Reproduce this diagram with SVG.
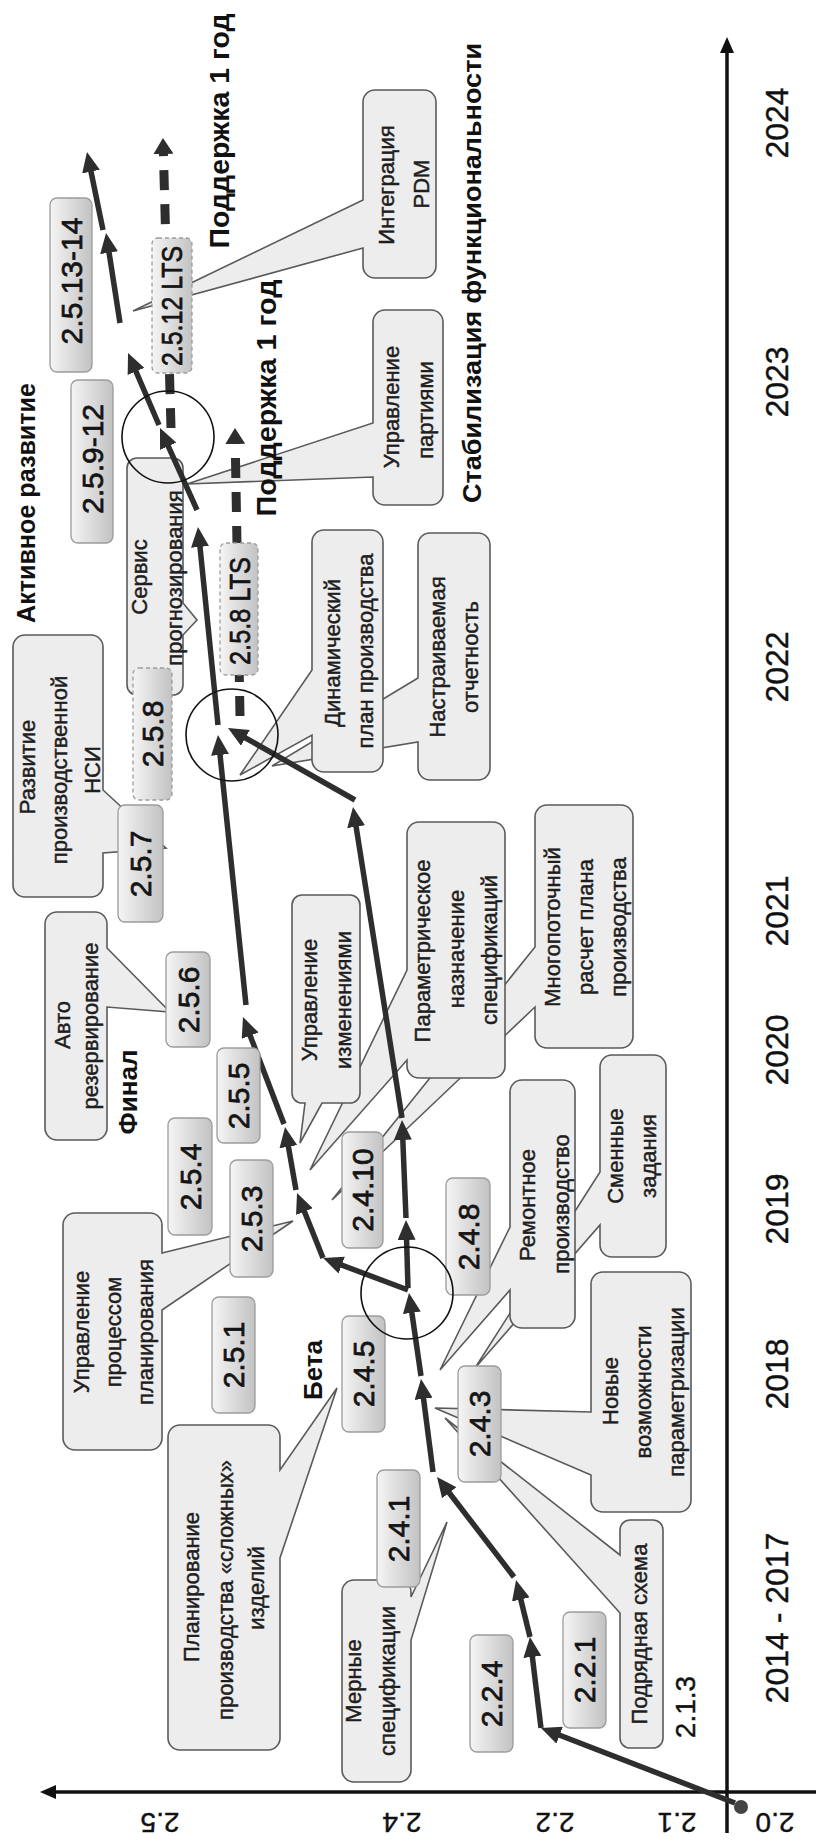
<svg xmlns="http://www.w3.org/2000/svg" width="816" height="1843" viewBox="0 0 816 1843">
<defs>
<style>
.cb{fill:#ededed;stroke:#5a5a5a;stroke-width:1.6}
.ct{font-family:"Liberation Sans",Arial,sans-serif;font-size:22px;fill:#1e1e1e;stroke:#1e1e1e;stroke-width:0.45;text-anchor:middle}
.vb{fill:url(#vg);stroke:#9c9c9c;stroke-width:1.3}
.vd{stroke-dasharray:4 3}
.vt{font-family:"Liberation Sans",Arial,sans-serif;font-size:30px;fill:#141414;stroke:#141414;stroke-width:0.7;text-anchor:middle}
.bt{font-family:"Liberation Sans",Arial,sans-serif;font-weight:bold;font-size:26px;fill:#111;text-anchor:middle}
.yt{font-family:"Liberation Sans",Arial,sans-serif;font-size:32px;fill:#111;stroke:#111;stroke-width:0.4;text-anchor:middle}
.at{font-family:"Liberation Sans",Arial,sans-serif;font-size:28px;fill:#111;stroke:#111;stroke-width:0.4;text-anchor:middle}
.ar{fill:none;stroke:#2e2e2e;stroke-width:5.5;marker-end:url(#ah)}
.da{fill:none;stroke:#2e2e2e;stroke-width:9;stroke-dasharray:20 14;marker-end:url(#dh)}
.ci{fill:none;stroke:#111;stroke-width:1.6}
.ax{stroke:#111;stroke-width:3.5;fill:none}
</style>
<linearGradient id="vg" x1="0" y1="0" x2="1" y2="0">
<stop offset="0" stop-color="#f5f5f5"/>
<stop offset="1" stop-color="#c2c2c2"/>
</linearGradient>
<marker id="ah" markerUnits="userSpaceOnUse" viewBox="0 0 20 18" markerWidth="20" markerHeight="18" refX="13" refY="9" orient="auto">
<path d="M0,0 L20,9 L0,18 Z" fill="#2e2e2e"/>
</marker>
<marker id="dh" markerUnits="userSpaceOnUse" viewBox="0 0 16 20" markerWidth="16" markerHeight="20" refX="8" refY="10" orient="auto">
<path d="M0,0 L16,10 L0,20 Z" fill="#2e2e2e"/>
</marker>
</defs>
<rect width="816" height="1843" fill="#fff"/>

<g id="axes">
<path class="ax" d="M816,1792 H54"/>
<polygon points="40,1792 56,1785 56,1799" fill="#111"/>
<path class="ax" d="M727,1833 V52"/>
<polygon points="727,37 720,53 734,53" fill="#111"/>
<circle cx="741" cy="1807" r="7" fill="#444"/>
<text class="at" transform="translate(160,1813) rotate(180)">2.5</text>
<text class="at" transform="translate(402,1813) rotate(180)">2.4</text>
<text class="at" transform="translate(555,1813) rotate(180)">2.2</text>
<text class="at" transform="translate(677,1813) rotate(180)">2.1</text>
<text class="at" transform="translate(775,1813) rotate(180)">2.0</text>
<text class="yt" transform="translate(788,123) rotate(-90)">2024</text>
<text class="yt" transform="translate(788,382) rotate(-90)">2023</text>
<text class="yt" transform="translate(788,667) rotate(-90)">2022</text>
<text class="yt" transform="translate(788,911) rotate(-90)">2021</text>
<text class="yt" transform="translate(788,1050) rotate(-90)">2020</text>
<text class="yt" transform="translate(788,1209) rotate(-90)">2019</text>
<text class="yt" transform="translate(788,1374) rotate(-90)">2018</text>
<text class="yt" transform="translate(788,1618) rotate(-90)">2014 - 2017</text>
</g>

<g id="callouts">
<g id="c-integration-pdm">
<path class="cb" d="M375,90 H424 A12,12 0 0 1 436,102 V266 A12,12 0 0 1 424,278 H375 A12,12 0 0 1 363,266 V248 L133,311 L363,200 V102 A12,12 0 0 1 375,90 Z"/>
<text class="ct" transform="translate(394,185) rotate(-90)">Интеграция</text>
<text class="ct" transform="translate(429,184) rotate(-90)">PDM</text>
</g>
<g id="c-batches">
<path class="cb" d="M385,310 H431 A12,12 0 0 1 443,322 V493 A12,12 0 0 1 431,505 H385 A12,12 0 0 1 373,493 V477 L187,484 L373,423 V322 A12,12 0 0 1 385,310 Z"/>
<text class="ct" transform="translate(399,407) rotate(-90)">Управление</text>
<text class="ct" transform="translate(433,410) rotate(-90)">партиями</text>
</g>
<g id="c-forecast">
<path class="cb" d="M137,458 H173 A10,10 0 0 1 183,468 V603 L197,620 L183,635 V685 A10,10 0 0 1 173,695 H137 A10,10 0 0 1 127,685 V468 A10,10 0 0 1 137,458 Z"/>
<text class="ct" transform="translate(147,577) rotate(-90)">Сервис</text>
<text class="ct" transform="translate(182,578) rotate(-90)">прогнозирования</text>
</g>
<g id="c-reports">
<path class="cb" d="M430,533 H478 A12,12 0 0 1 490,545 V768 A12,12 0 0 1 478,780 H430 A12,12 0 0 1 418,768 V742 L272,766 L418,678 V545 A12,12 0 0 1 430,533 Z"/>
<text class="ct" transform="translate(445,657) rotate(-90)">Настраиваемая</text>
<text class="ct" transform="translate(478,657) rotate(-90)">отчетность</text>
</g>
<g id="c-dynamic-plan">
<path class="cb" d="M324,530 H371 A12,12 0 0 1 383,542 V760 A12,12 0 0 1 371,772 H324 A12,12 0 0 1 312,760 V735 L240,775 L312,670 V542 A12,12 0 0 1 324,530 Z"/>
<text class="ct" transform="translate(340,653) rotate(-90)">Динамический</text>
<text class="ct" transform="translate(373,651) rotate(-90)">план производства</text>
</g>
<g id="c-nsi">
<path class="cb" d="M25,635 H91 A12,12 0 0 1 103,647 V790 L166,848 L103,853 V885 A12,12 0 0 1 91,897 H25 A12,12 0 0 1 13,885 V647 A12,12 0 0 1 25,635 Z"/>
<text class="ct" transform="translate(35,767) rotate(-90)">Развитие</text>
<text class="ct" transform="translate(67,770) rotate(-90)">производственной</text>
<text class="ct" transform="translate(100,770) rotate(-90)">НСИ</text>
</g>
<g id="c-autoreserve">
<path class="cb" d="M57,912 H95 A12,12 0 0 1 107,924 V948 L170,1012 L107,1007 V1128 A12,12 0 0 1 95,1140 H57 A12,12 0 0 1 45,1128 V924 A12,12 0 0 1 57,912 Z"/>
<text class="ct" transform="translate(70,1025) rotate(-90)">Авто</text>
<text class="ct" transform="translate(98,1026) rotate(-90)">резервирование</text>
</g>
<g id="c-multithread">
<path class="cb" d="M547,805 H621 A12,12 0 0 1 633,817 V1036 A12,12 0 0 1 621,1048 H547 A12,12 0 0 1 535,1036 V1007 L332,1200 L535,947 V817 A12,12 0 0 1 547,805 Z"/>
<text class="ct" transform="translate(560,927) rotate(-90)">Многопоточный</text>
<text class="ct" transform="translate(593,927) rotate(-90)">расчет плана</text>
<text class="ct" transform="translate(626,927) rotate(-90)">производства</text>
</g>
<g id="c-param-spec">
<path class="cb" d="M419,822 H493 A12,12 0 0 1 505,834 V1066 A12,12 0 0 1 493,1078 H419 A12,12 0 0 1 407,1066 V1060 L310,1170 L407,970 V834 A12,12 0 0 1 419,822 Z"/>
<text class="ct" transform="translate(430,951) rotate(-90)">Параметрическое</text>
<text class="ct" transform="translate(464,949) rotate(-90)">назначение</text>
<text class="ct" transform="translate(497,950) rotate(-90)">спецификаций</text>
</g>
<g id="c-changes">
<path class="cb" d="M302,895 H350 A10,10 0 0 1 360,905 V1093 A10,10 0 0 1 350,1103 H322 L300,1143 L305,1103 H302 A10,10 0 0 1 292,1093 V905 A10,10 0 0 1 302,895 Z"/>
<text class="ct" transform="translate(317,1000) rotate(-90)">Управление</text>
<text class="ct" transform="translate(351,1000) rotate(-90)">изменениями</text>
</g>
<g id="c-shift-tasks">
<path class="cb" d="M612,1055 H654 A12,12 0 0 1 666,1067 V1245 A12,12 0 0 1 654,1257 H612 A12,12 0 0 1 600,1245 V1225 L475,1368 L600,1172 V1067 A12,12 0 0 1 612,1055 Z"/>
<text class="ct" transform="translate(623,1156) rotate(-90)">Сменные</text>
<text class="ct" transform="translate(656,1156) rotate(-90)">задания</text>
</g>
<g id="c-repair">
<path class="cb" d="M522,1080 H563 A12,12 0 0 1 575,1092 V1316 A12,12 0 0 1 563,1328 H522 A12,12 0 0 1 510,1316 V1290 L440,1370 L510,1227 V1092 A12,12 0 0 1 522,1080 Z"/>
<text class="ct" transform="translate(535,1205) rotate(-90)">Ремонтное</text>
<text class="ct" transform="translate(569,1204) rotate(-90)">производство</text>
</g>
<g id="c-param-new">
<path class="cb" d="M603,1272 H679 A12,12 0 0 1 691,1284 V1500 A12,12 0 0 1 679,1512 H603 A12,12 0 0 1 591,1500 V1475 L435,1408 L591,1412 V1284 A12,12 0 0 1 603,1272 Z"/>
<text class="ct" transform="translate(618,1391) rotate(-90)">Новые</text>
<text class="ct" transform="translate(651,1392) rotate(-90)">возможности</text>
<text class="ct" transform="translate(684,1392) rotate(-90)">параметризации</text>
</g>
<g id="c-subcontract">
<path class="cb" d="M630,1520 H653 A10,10 0 0 1 663,1530 V1738 A10,10 0 0 1 653,1748 H630 A10,10 0 0 1 620,1738 V1613 L445,1418 L620,1555 V1530 A10,10 0 0 1 630,1520 Z"/>
<text class="ct" transform="translate(647,1634) rotate(-90)">Подрядная схема</text>
</g>
<g id="c-measured-spec">
<path class="cb" d="M354,1580 H399 A12,12 0 0 1 411,1592 V1597 L447,1522 L411,1640 V1770 A12,12 0 0 1 399,1782 H354 A12,12 0 0 1 342,1770 V1592 A12,12 0 0 1 354,1580 Z"/>
<text class="ct" transform="translate(361,1681) rotate(-90)">Мерные</text>
<text class="ct" transform="translate(395,1681) rotate(-90)">спецификации</text>
</g>
<g id="c-complex">
<path class="cb" d="M180,1425 H268 A12,12 0 0 1 280,1437 V1470 L337,1388 L280,1558 V1738 A12,12 0 0 1 268,1750 H180 A12,12 0 0 1 168,1738 V1437 A12,12 0 0 1 180,1425 Z"/>
<text class="ct" transform="translate(199,1587) rotate(-90)">Планирование</text>
<text class="ct" transform="translate(233,1590) rotate(-90)">производства «сложных»</text>
<text class="ct" transform="translate(264,1588) rotate(-90)">изделий</text>
</g>
<g id="c-planning-process">
<path class="cb" d="M75,1213 H150 A12,12 0 0 1 162,1225 V1253 L293,1221 L162,1310 V1438 A12,12 0 0 1 150,1450 H75 A12,12 0 0 1 63,1438 V1225 A12,12 0 0 1 75,1213 Z"/>
<text class="ct" transform="translate(89,1332) rotate(-90)">Управление</text>
<text class="ct" transform="translate(121,1332) rotate(-90)">процессом</text>
<text class="ct" transform="translate(153,1332) rotate(-90)">планирования</text>
</g>
</g>

<g id="connectors">
<path class="ar" d="M735,1803 L547.5,1730.5"/>
<path class="ar" d="M541,1728 L530.8,1644"/>
<path class="ar" d="M530,1637 L517.7,1586.8"/>
<path class="ar" d="M514,1577 L441.3,1482.5"/>
<path class="ar" d="M433,1472 L421.9,1385.9"/>
<path class="ar" d="M421,1376 L410,1299.9"/>
<path class="ar" d="M408,1290 L329.6,1260.5"/>
<path class="ar" d="M323,1258 L299.6,1199.5"/>
<path class="ar" d="M296,1190 L286.2,1133.9"/>
<path class="ar" d="M284,1124 L245.5,1023.5"/>
<path class="ar" d="M246,1005 L218.7,742"/>
<path class="ar" d="M218,725 L198.7,534"/>
<path class="ar" d="M197,510 L162.9,434.4"/>
<path class="ar" d="M159,425 L130.8,359.4"/>
<path class="ar" d="M120,323 L107.1,239.9"/>
<path class="ar" d="M103,230 L88.4,158.9"/>
<path class="ar" d="M408,1288 L406.2,1227"/>
<path class="ar" d="M406,1218 L402.3,1127"/>
<path class="ar" d="M402,1118 L354.1,813.9"/>
<path class="ar" d="M355,800 L234.1,731.5"/>
<path class="da" d="M240,716 L235.1,436"/>
<path class="da" d="M171,428 L163.2,146"/>
</g>

<g id="versions">
<g id="v-2-5-13-14"><rect class="vb" x="50" y="198" width="42" height="174" rx="7"/><text class="vt" transform="translate(81.5,281) rotate(-90)">2.5.13-14</text></g>
<g id="v-2-5-12-lts"><rect class="vb vd" x="152" y="238" width="40" height="135" rx="6"/><text class="vt" transform="translate(182,306) rotate(-90)" textLength="120" lengthAdjust="spacingAndGlyphs">2.5.12 LTS</text></g>
<g id="v-2-5-9-12"><rect class="vb" x="71" y="380" width="42" height="163" rx="7"/><text class="vt" transform="translate(102.5,459) rotate(-90)">2.5.9-12</text></g>
<g id="v-2-5-8-lts"><rect class="vb vd" x="220" y="543" width="38" height="132" rx="6"/><text class="vt" transform="translate(249.5,611) rotate(-90)" textLength="108" lengthAdjust="spacingAndGlyphs">2.5.8 LTS</text></g>
<g id="v-2-5-8"><rect class="vb vd" x="133" y="668" width="39" height="132" rx="6"/><text class="vt" transform="translate(163,734) rotate(-90)">2.5.8</text></g>
<g id="v-2-5-7"><rect class="vb" x="118" y="805" width="45" height="117" rx="7"/><text class="vt" transform="translate(151,864) rotate(-90)">2.5.7</text></g>
<g id="v-2-5-6"><rect class="vb" x="166" y="952" width="44" height="95" rx="7"/><text class="vt" transform="translate(198.5,1000) rotate(-90)">2.5.6</text></g>
<g id="v-2-5-5"><rect class="vb" x="217" y="1048" width="43" height="95" rx="7"/><text class="vt" transform="translate(249,1096) rotate(-90)">2.5.5</text></g>
<g id="v-2-5-4"><rect class="vb" x="168" y="1118" width="44" height="117" rx="7"/><text class="vt" transform="translate(200.5,1177) rotate(-90)">2.5.4</text></g>
<g id="v-2-5-3"><rect class="vb" x="230" y="1160" width="43" height="117" rx="7"/><text class="vt" transform="translate(262,1219) rotate(-90)">2.5.3</text></g>
<g id="v-2-5-1"><rect class="vb" x="212" y="1297" width="43" height="116" rx="7"/><text class="vt" transform="translate(244,1355) rotate(-90)">2.5.1</text></g>
<g id="v-2-4-10"><rect class="vb" x="342" y="1132" width="41" height="116" rx="7"/><text class="vt" transform="translate(373,1190) rotate(-90)">2.4.10</text></g>
<g id="v-2-4-8"><rect class="vb" x="446" y="1178" width="44" height="117" rx="7"/><text class="vt" transform="translate(478.5,1237) rotate(-90)">2.4.8</text></g>
<g id="v-2-4-5"><rect class="vb" x="342" y="1316" width="43" height="116" rx="7"/><text class="vt" transform="translate(374,1374) rotate(-90)">2.4.5</text></g>
<g id="v-2-4-3"><rect class="vb" x="458" y="1366" width="43" height="116" rx="7"/><text class="vt" transform="translate(490,1424) rotate(-90)">2.4.3</text></g>
<g id="v-2-4-1"><rect class="vb" x="377" y="1470" width="43" height="117" rx="7"/><text class="vt" transform="translate(409,1529) rotate(-90)">2.4.1</text></g>
<g id="v-2-2-4"><rect class="vb" x="470" y="1635" width="43" height="117" rx="7"/><text class="vt" transform="translate(502,1694) rotate(-90)">2.2.4</text></g>
<g id="v-2-2-1"><rect class="vb" x="563" y="1612" width="43" height="116" rx="7"/><text class="vt" transform="translate(595,1670) rotate(-90)">2.2.1</text></g>
<g id="v-2-1-3"><text class="at" transform="translate(695,1707) rotate(-90)">2.1.3</text></g>
</g>

<g id="highlights">
<circle class="ci" cx="168" cy="437" r="46"/>
<circle class="ci" cx="232" cy="735" r="46"/>
<circle class="ci" cx="407" cy="1293" r="46"/>
</g>

<g id="labels">
<text class="bt" transform="translate(35,503) rotate(-90)" textLength="240" lengthAdjust="spacingAndGlyphs">Активное развитие</text>
<text class="bt" style="font-size:27px" transform="translate(229,131) rotate(-90)" textLength="235" lengthAdjust="spacingAndGlyphs">Поддержка 1 год</text>
<text class="bt" style="font-size:27px" transform="translate(276,398) rotate(-90)" textLength="237" lengthAdjust="spacingAndGlyphs">Поддержка 1 год</text>
<text class="bt" transform="translate(481,273) rotate(-90)" textLength="460" lengthAdjust="spacingAndGlyphs">Стабилизация функциональности</text>
<text class="bt" transform="translate(137,1092) rotate(-90)">Финал</text>
<text class="bt" transform="translate(322,1370) rotate(-90)">Бета</text>
</g>
</svg>
